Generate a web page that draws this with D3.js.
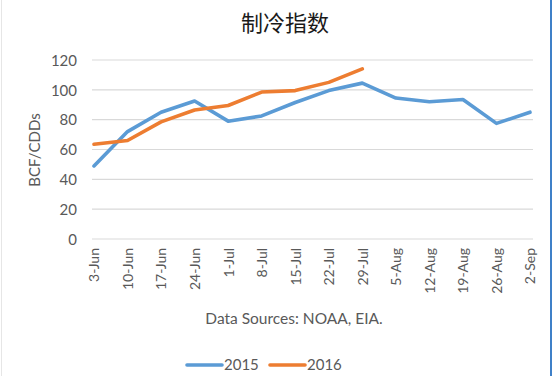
<!DOCTYPE html>
<html>
<head>
<meta charset="utf-8">
<script src="https://cdn.jsdelivr.net/npm/d3@7"></script>
<style>
  html, body { margin: 0; padding: 0; background: #fff; }
  svg { display: block; }
</style>
</head>
<body>
<svg id="chart" width="555" height="376"></svg>
<script>
const categories = ["3-Jun","10-Jun","17-Jun","24-Jun","1-Jul","8-Jul","15-Jul","22-Jul","29-Jul","5-Aug","12-Aug","19-Aug","26-Aug","2-Sep"];
const values2015 = [49, 72, 85, 92.5, 79, 82.5, 91.5, 99.5, 104.5, 94.5, 92, 93.5, 77.5, 85];
const values2016 = [63.5, 66, 78.5, 86.5, 89.5, 98.5, 99.5, 105, 114];
const yTicks = [0, 20, 40, 60, 80, 100, 120];
const seriesNames = ["2015", "2016"];
const seriesColors = ["#5b9bd5", "#ed7d31"];

const svg = d3.select("#chart");
const W = 555, H = 376;
const fontLatin = "Lato, 'Open Sans', 'DejaVu Sans', sans-serif";

// frame
svg.append("rect").attr("x", 0).attr("y", 0).attr("width", W).attr("height", H).attr("fill", "#fff");
svg.append("line").attr("x1", 1.5).attr("x2", 1.5).attr("y1", 0).attr("y2", H).attr("stroke", "#e6e6e6").attr("stroke-width", 1);
svg.append("line").attr("x1", 551).attr("x2", 551).attr("y1", 0).attr("y2", H).attr("stroke", "#3f80c8").attr("stroke-width", 2);

const plot = { left: 92, right: 533, top: 60, bottom: 239 };

const x = d3.scalePoint().domain(categories).range([94, 530]);
const y = d3.scaleLinear().domain([0, 120]).range([plot.bottom, plot.top]);

// gridlines
svg.append("g").selectAll("line").data(yTicks).join("line")
  .attr("x1", plot.left).attr("x2", plot.right)
  .attr("y1", d => y(d)).attr("y2", d => y(d))
  .attr("stroke", "#d9d9d9").attr("stroke-width", 1.2);

// y axis
const yAxis = d3.axisLeft(y).tickValues(yTicks).tickSize(0).tickPadding(0);
const gy = svg.append("g").attr("transform", "translate(77,0)").call(yAxis);
gy.select(".domain").remove();
gy.selectAll("text").attr("font-family", fontLatin).attr("font-size", 15).attr("fill", "#595959").attr("dy", "0.35em");

// x axis
const xAxis = d3.axisBottom(x).tickSize(0).tickPadding(0);
const gx = svg.append("g").attr("transform", `translate(0,${plot.bottom})`).call(xAxis);
gx.select(".domain").remove();
gx.selectAll("text")
  .attr("font-family", fontLatin).attr("font-size", 14).attr("fill", "#595959")
  .attr("text-anchor", "end")
  .attr("transform", "rotate(-90)")
  .attr("x", -9).attr("y", 0).attr("dy", "0.35em");

// lines
const line = d3.line().x((d, i) => x(categories[i])).y(d => y(d));
[values2015, values2016].forEach((vals, k) => {
  svg.append("path").datum(vals)
    .attr("d", line)
    .attr("fill", "none")
    .attr("stroke", seriesColors[k])
    .attr("stroke-width", 3.6)
    .attr("stroke-linejoin", "round")
    .attr("stroke-linecap", "round");
});

// title
svg.append("text").attr("x", 285).attr("y", 31).attr("text-anchor", "middle")
  .attr("font-family", "'Noto Sans CJK SC', sans-serif").attr("font-size", 22).attr("fill", "#1a1a1a")
  .text("制冷指数");

// y label
svg.append("text").attr("transform", "translate(40,150) rotate(-90)").attr("text-anchor", "middle")
  .attr("font-family", fontLatin).attr("font-size", 15).attr("fill", "#595959")
  .text("BCF/CDDs");

// source label
svg.append("text").attr("x", 294).attr("y", 324).attr("text-anchor", "middle")
  .attr("font-family", fontLatin).attr("font-size", 15.5).attr("fill", "#595959")
  .text("Data Sources: NOAA, EIA.");

// legend
const legendX = [187, 270];
seriesNames.forEach((name, k) => {
  const g = svg.append("g").attr("transform", `translate(${legendX[k]},365)`);
  g.append("line").attr("x1", 0).attr("x2", 35).attr("y1", 0).attr("y2", 0)
    .attr("stroke", seriesColors[k]).attr("stroke-width", 3.6).attr("stroke-linecap", "round");
  g.append("text").attr("x", 37).attr("y", 0).attr("dy", "0.35em")
    .attr("font-family", fontLatin).attr("font-size", 15).attr("fill", "#595959")
    .text(name);
});
</script>
</body>
</html>
